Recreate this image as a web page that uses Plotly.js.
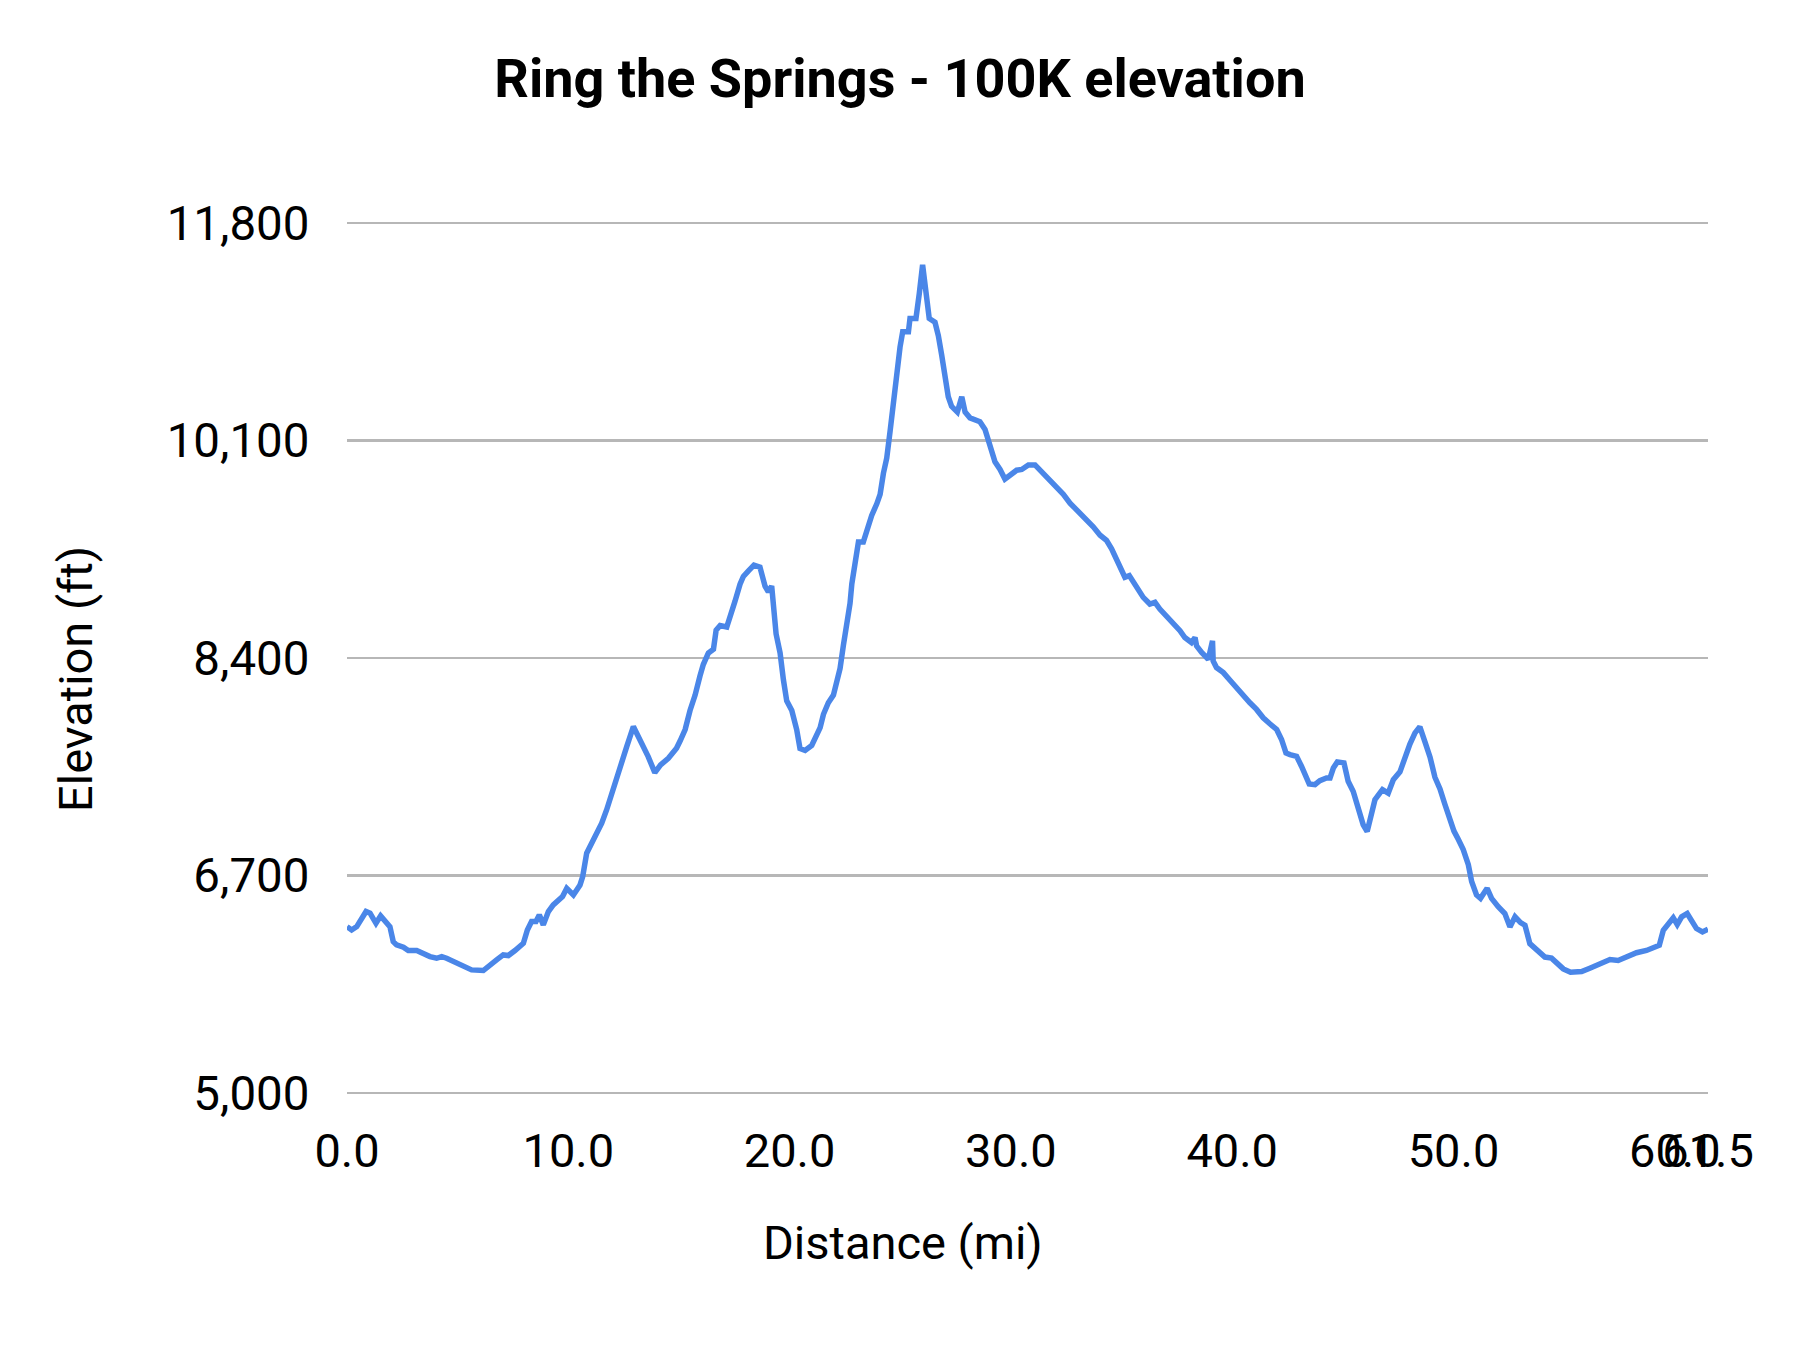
<!DOCTYPE html>
<html>
<head>
<meta charset="utf-8">
<script src="https://cdn.plot.ly/plotly-3.0.1.min.js"></script>
<style>html,body{margin:0;padding:0;background:#fff;}#chart{width:1800px;height:1350px;}</style>
</head>
<body>
<div id="chart"></div>
<script>
const chartTitle = "Ring the Springs - 100K elevation";
const xTitle = "Distance (mi)";
const yTitle = "Elevation (ft)";

const xTickVals = [0, 10, 20, 30, 40, 50, 60, 61.5];
const xTickText = ["0.0", "10.0", "20.0", "30.0", "40.0", "50.0", "60.0", "61.5"];
const yTickVals = [5000, 6700, 8400, 10100, 11800];

const distance = [
  0.0, 0.21, 0.44, 0.62, 0.86, 1.04, 1.31, 1.52, 1.72, 1.94,
  2.09, 2.24, 2.55, 2.77, 3.15, 3.37, 3.75, 4.05, 4.28, 4.50,
  4.88, 5.26, 5.63, 6.16, 6.46, 6.76, 7.06, 7.29, 7.59, 7.97,
  8.15, 8.34, 8.54, 8.69, 8.87, 9.10, 9.32, 9.55, 9.74, 9.93,
  10.23, 10.53, 10.65, 10.83, 11.05, 11.28, 11.51, 11.73, 11.96, 12.21,
  12.41, 12.64, 12.94, 13.31, 13.61, 13.91, 14.17, 14.52, 14.74, 14.89,
  15.05, 15.28, 15.50, 15.73, 15.95, 16.10, 16.33, 16.56, 16.68, 16.86,
  17.16, 17.31, 17.53, 17.76, 17.91, 18.14, 18.39, 18.66, 18.89, 19.04,
  19.19, 19.39, 19.57, 19.72, 19.87, 20.10, 20.32, 20.47, 20.70, 21.00,
  21.15, 21.38, 21.53, 21.75, 21.98, 22.13, 22.28, 22.43, 22.58, 22.73,
  22.81, 22.96, 23.11, 23.33, 23.48, 23.71, 23.94, 24.09, 24.24, 24.39,
  24.54, 24.69, 24.84, 24.99, 25.11, 25.37, 25.44, 25.71, 25.86, 26.01,
  26.15, 26.31, 26.57, 26.72, 26.87, 27.02, 27.17, 27.32, 27.58, 27.78,
  27.93, 28.15, 28.38, 28.60, 28.83, 28.98, 29.13, 29.28, 29.51, 29.73,
  29.96, 30.26, 30.49, 30.79, 31.09, 31.47, 31.77, 32.07, 32.37, 32.67,
  32.97, 33.35, 33.72, 34.03, 34.32, 34.55, 34.78, 35.00, 35.15, 35.35,
  35.53, 35.76, 35.98, 36.28, 36.51, 36.73, 37.04, 37.41, 37.64, 37.86,
  38.16, 38.32, 38.39, 38.62, 38.92, 39.11, 39.14, 39.29, 39.60, 39.90,
  40.20, 40.50, 40.80, 41.10, 41.40, 41.70, 42.01, 42.23, 42.43, 42.61,
  42.91, 43.13, 43.36, 43.48, 43.74, 43.96, 44.26, 44.42, 44.57, 44.75,
  45.05, 45.24, 45.47, 45.70, 45.92, 46.10, 46.30, 46.45, 46.67, 46.79,
  47.05, 47.28, 47.58, 47.81, 48.03, 48.26, 48.48, 48.71, 48.94, 49.16,
  49.39, 49.61, 49.84, 50.02, 50.22, 50.44, 50.67, 50.82, 51.04, 51.22,
  51.52, 51.72, 52.02, 52.32, 52.55, 52.78, 53.03, 53.23, 53.45, 53.75,
  54.13, 54.43, 54.66, 54.96, 55.29, 55.79, 56.16, 56.62, 57.07, 57.44,
  57.82, 58.27, 58.72, 59.03, 59.30, 59.48, 59.70, 59.93, 60.11, 60.31,
  60.56, 60.76, 60.98, 61.25, 61.5
];

const elevation = [
  6300, 6274, 6300, 6353, 6418, 6405, 6326, 6384, 6340, 6300,
  6183, 6157, 6139, 6113, 6113, 6092, 6066, 6053, 6066, 6053,
  6019, 5993, 5962, 5957, 5993, 6040, 6079, 6074, 6113, 6170,
  6274, 6340, 6340, 6392, 6314, 6418, 6470, 6514, 6535, 6600,
  6548, 6626, 6691, 6874, 6952, 7035, 7108, 7212, 7343, 7499,
  7577, 7707, 7864, 7746, 7629, 7504, 7564, 7616, 7668, 7694,
  7751, 7841, 7990, 8110, 8259, 8349, 8439, 8469, 8618, 8654,
  8642, 8738, 8842, 8977, 9037, 9081, 9126, 9111, 8962, 8917,
  8962, 8588, 8439, 8230, 8065, 7990, 7841, 7692, 7677, 7716,
  7781, 7856, 7960, 8050, 8110, 8230, 8319, 8499, 8648, 8827,
  8977, 9156, 9306, 9306, 9395, 9515, 9605, 9679, 9844, 9963,
  10172, 10412, 10621, 10830, 10950, 10950, 11054, 11054, 11249, 11473,
  11278, 11054, 11024, 10920, 10770, 10621, 10442, 10367, 10322, 10442,
  10322, 10277, 10256, 10247, 10187, 10113, 10038, 9933, 9874, 9799,
  9829, 9868, 9874, 9909, 9909, 9844, 9784, 9730, 9679, 9611,
  9560, 9500, 9425, 9360, 9319, 9253, 9162, 9070, 9031, 9044,
  8992, 8940, 8874, 8822, 8835, 8783, 8722, 8665, 8613, 8560,
  8521, 8560, 8495, 8443, 8390, 8534, 8377, 8325, 8286, 8226,
  8163, 8103, 8050, 7998, 7933, 7886, 7841, 7763, 7658, 7645,
  7632, 7554, 7475, 7415, 7410, 7441, 7462, 7462, 7540, 7588,
  7580, 7436, 7357, 7227, 7096, 7044, 7174, 7292, 7344, 7371,
  7344, 7449, 7510, 7630, 7727, 7815, 7862, 7744, 7625, 7468,
  7376, 7257, 7139, 7047, 6981, 6903, 6784, 6653, 6548, 6521,
  6600, 6521, 6456, 6403, 6298, 6377, 6332, 6311, 6167, 6114,
  6062, 6054, 6022, 5970, 5943, 5949, 5975, 6009, 6043, 6035,
  6062, 6096, 6114, 6140, 6154, 6272, 6324, 6369, 6317, 6377,
  6403, 6351, 6285, 6259, 6280
];

const W = 1800, H = 1350;
// plot box padded by 2px top and bottom so the 5,000 and 11,800 gridlines are drawn
const M = {l: 347, r: 92, t: 221, b: 255};
const plotW = W - M.l - M.r, plotH = H - M.t - M.b;
const FONT = "Roboto, 'Noto Sans', sans-serif";

const trace = {
  x: distance,
  y: elevation,
  type: "scatter",
  mode: "lines",
  line: {color: "#4a86e8", width: 5.5},
  hoverinfo: "skip",
  showlegend: false,
  cliponaxis: false
};

const layout = {
  width: W,
  height: H,
  margin: M,
  paper_bgcolor: "#ffffff",
  plot_bgcolor: "#ffffff",
  showlegend: false,
  title: {
    text: chartTitle,
    font: {family: FONT, size: 54, color: "#000000", weight: 700},
    xref: "container", x: 900 / W, xanchor: "center",
    yref: "container", y: 1 - 78 / H, yanchor: "middle"
  },
  xaxis: {
    range: [0, 61.5],
    tickmode: "array",
    tickvals: xTickVals,
    ticktext: xTickText,
    tickangle: 0,
    showgrid: false,
    zeroline: false,
    showline: false,
    ticks: "outside",
    ticklen: 15,
    tickcolor: "rgba(0,0,0,0)",
    tickfont: {family: FONT, size: 47, color: "#000000"},
    fixedrange: true
  },
  yaxis: {
    range: [4984, 11816],
    tickmode: "array",
    tickvals: yTickVals,
    tickformat: ",d",
    showgrid: true,
    gridcolor: "#b7b7b7",
    gridwidth: 2.2,
    zeroline: false,
    showline: false,
    ticks: "outside",
    ticklen: 27,
    tickcolor: "rgba(0,0,0,0)",
    tickfont: {family: FONT, size: 47.5, color: "#000000"},
    fixedrange: true
  },
  annotations: [
    {
      text: xTitle,
      xref: "paper", yref: "paper",
      x: (903 - M.l) / plotW, y: -(1242 - (H - M.b)) / plotH,
      xanchor: "center", yanchor: "middle",
      showarrow: false,
      font: {family: FONT, size: 47, color: "#000000"}
    },
    {
      text: yTitle,
      xref: "paper", yref: "paper",
      x: (75 - M.l) / plotW, y: ((H - M.b) - 679) / plotH,
      xanchor: "center", yanchor: "middle",
      textangle: -90,
      showarrow: false,
      font: {family: FONT, size: 47, color: "#000000"}
    }
  ]
};

Plotly.newPlot("chart", [trace], layout, {staticPlot: true, displayModeBar: false});
</script>
</body>
</html>
